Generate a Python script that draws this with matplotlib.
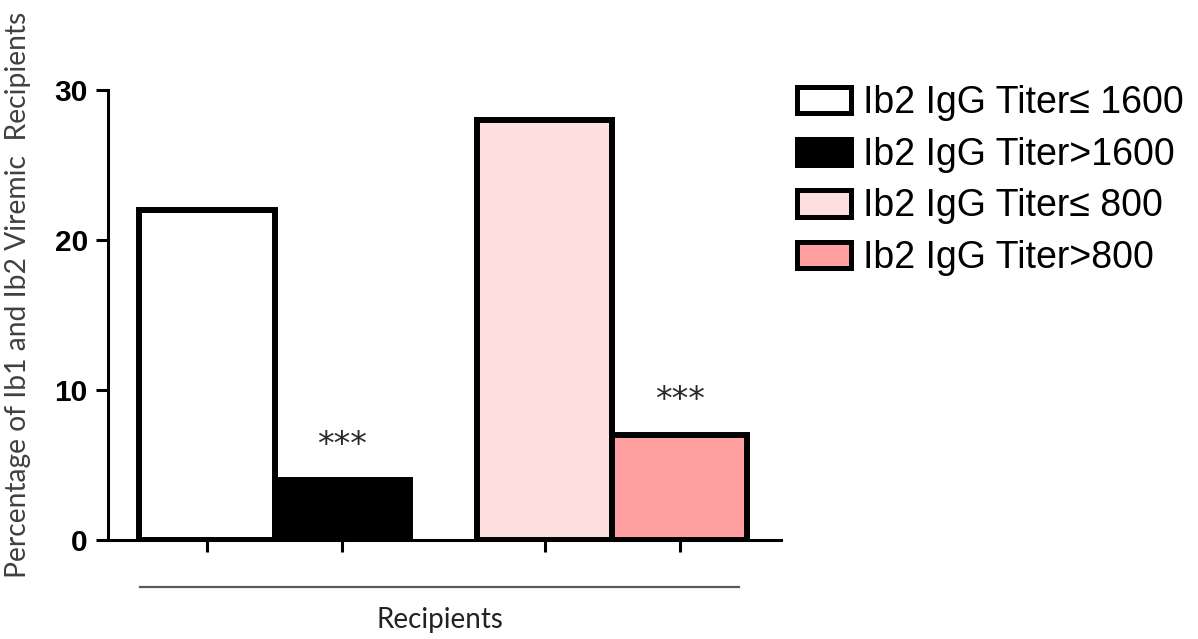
import matplotlib
matplotlib.use("Agg")
import matplotlib.pyplot as plt
from matplotlib.patches import Patch
from matplotlib.lines import Line2D

# Data
labels = ["Ib2 IgG Titer\u2264 1600", "Ib2 IgG Titer>1600", "Ib2 IgG Titer\u2264 800", "Ib2 IgG Titer>800"]
values = [22, 4, 28, 7]
positions = [0, 1, 2.5, 3.5]
colors = ["#FFFFFF", "#000000", "#FDDFE0", "#FF9F9F"]
signif = ["", "***", "", "***"]
yticks = [0, 10, 20, 30]
ylabel = "Percentage of Ib1 and Ib2 Viremic  Recipients"
xlabel = "Recipients"

W, H = 1198, 639
fig = plt.figure(figsize=(W / 100, H / 100), dpi=100)
ax = fig.add_axes([108 / W, 1 - 540 / H, (781 - 108) / W, (540 - 90) / H])

ax.bar(positions, values, width=1.0, color=colors, edgecolor="black",
       linewidth=4.3, zorder=3, joinstyle="miter")

ax.set_xlim(-0.733, 4.25)
ax.set_ylim(0, 30)
ax.set_yticks(yticks)
ax.set_yticklabels([str(t) for t in yticks], fontsize=21.5, fontweight="bold",
                   family="Liberation Sans")
ax.set_xticks(positions)
ax.set_xticklabels([])
ax.tick_params(axis="both", length=8.5, width=2.2, direction="out", pad=6)
for s in ["top", "right"]:
    ax.spines[s].set_visible(False)
for s in ["left", "bottom"]:
    ax.spines[s].set_linewidth(2.2)

for p, v, s in zip(positions, values, signif):
    if s:
        ax.text(p, v + 1.2, s, ha="center", va="bottom", fontsize=24,
                color="#2a2a2a", family="DejaVu Sans")

# y label
fig.text(18 / W, 1 - 578 / H, ylabel, rotation=90, ha="center", va="bottom",
         fontsize=20.3, color="#404040", family="Lato")

# grouping line and x label
fig.add_artist(Line2D([140 / W, 739 / W], [1 - 587 / H, 1 - 587 / H],
                      color="#595959", linewidth=1.6))
fig.text(440 / W, 1 - 620 / H, xlabel, ha="center", va="center",
         fontsize=20, color="#222222", family="Lato")

handles = [Patch(facecolor=c, edgecolor="black", linewidth=3.6, joinstyle="round")
           for c in colors]
leg = fig.legend(handles, labels, loc="upper left",
                 bbox_to_anchor=(797 / W, 1 - 85 / H), frameon=False,
                 prop={"family": "Liberation Sans", "size": 27},
                 handlelength=1.45, handleheight=0.7, handletextpad=0.3,
                 labelspacing=0.42, borderaxespad=0, borderpad=0)

fig.savefig("out.png", dpi=100)
